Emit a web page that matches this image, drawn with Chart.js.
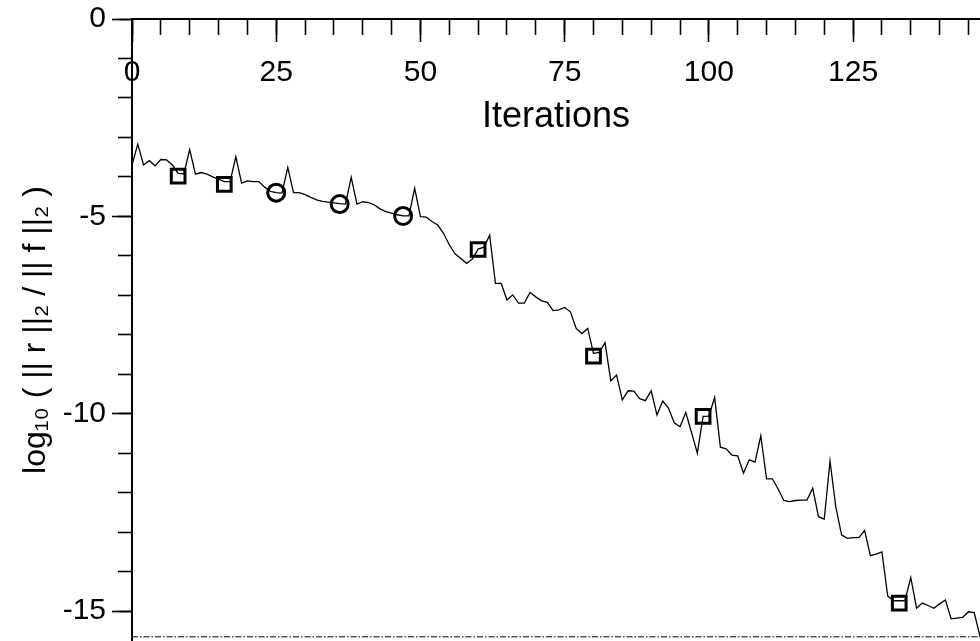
<!DOCTYPE html>
<html>
<head>
<meta charset="utf-8">
<script src="https://cdn.jsdelivr.net/npm/chart.js@4.4.1/dist/chart.umd.min.js"></script>
<style>
  html, body { margin: 0; padding: 0; background: #fff; }
  #wrap { width: 980px; height: 641px; position: relative; }
</style>
</head>
<body>
<div id="wrap"><canvas id="c"></canvas></div>
<script>
// ---- data ----
const iterations = [0,1,2,3,4,5,6,7,8,9,10,11,12,13,14,15,16,17,18,19,20,21,22,23,24,25,26,27,28,29,30,31,32,33,34,35,36,37,38,39,40,41,42,43,44,45,46,47,48,49,50,51,52,53,54,55,56,57,58,59,60,61,62,63,64,65,66,67,68,69,70,71,72,73,74,75,76,77,78,79,80,81,82,83,84,85,86,87,88,89,90,91,92,93,94,95,96,97,98,99,100,101,102,103,104,105,106,107,108,109,110,111,112,113,114,115,116,117,118,119,120,121,122,123,124,125,126,127,128,129,130,131,132,133,134,135,136,137,138,139,140,141,142,143,144,145,146,147];
const residual = [
  -3.70,-3.17,-3.70,-3.59,-3.72,-3.56,-3.57,-3.70,-3.91,-3.92,
  -3.31,-3.93,-3.89,-3.93,-4.00,-4.06,-4.12,-4.12,-3.49,-4.16,
  -4.10,-4.12,-4.12,-4.26,-4.37,-4.40,-4.41,-3.76,-4.40,-4.40,
  -4.45,-4.52,-4.58,-4.62,-4.64,-4.66,-4.68,-4.69,-4.01,-4.69,
  -4.63,-4.65,-4.71,-4.81,-4.88,-4.92,-4.96,-4.99,-4.99,-4.29,
  -5.01,-5.02,-5.13,-5.22,-5.43,-5.72,-5.95,-6.07,-6.19,-6.08,
  -5.83,-5.78,-5.48,-6.70,-6.70,-7.12,-6.99,-7.20,-7.20,-6.93,
  -7.04,-7.14,-7.18,-7.39,-7.37,-7.31,-7.42,-7.84,-7.97,-7.84,
  -8.47,-8.45,-8.20,-9.17,-9.02,-9.65,-9.42,-9.43,-9.62,-9.67,
  -9.42,-10.03,-9.68,-9.86,-10.23,-10.33,-9.97,-10.48,-11.00,-10.07,
  -10.06,-9.59,-10.85,-10.89,-11.05,-11.07,-11.51,-11.17,-11.23,-10.56,
  -11.65,-11.65,-11.91,-12.20,-12.23,-12.20,-12.19,-12.19,-11.89,-12.61,
  -12.67,-11.20,-12.36,-13.07,-13.16,-13.14,-13.14,-12.96,-13.60,-13.56,
  -13.50,-14.62,-14.74,-14.74,-14.74,-14.15,-14.93,-14.80,-14.86,-14.93,
  -14.82,-14.72,-15.20,-15.18,-15.16,-15.02,-15.04,-15.65
];
const squareIters = [8, 16, 60, 80, 99, 133];
const squareVals  = [-3.98, -4.19, -5.84, -8.54, -10.07, -14.80];
const circleIters = [25, 36, 47];
const circleVals  = [-4.40, -4.69, -4.99];
const epsLevel = -15.654;          // log10(machine epsilon)
const epsRange = [0, 147];
const xMajorTicks = [0, 25, 50, 75, 100, 125];
const yMajorTicks = [0, -5, -10, -15];

const xTitle = 'Iterations';
const yTitle = 'log\u2081\u2080 ( || r ||\u2082 / || f ||\u2082 )';

// ---- chart ----
const FONT = "'Liberation Sans', Arial, Helvetica, sans-serif";
const pts = (xs, ys) => xs.map((x, i) => ({x: x, y: ys[i]}));
const noPad = (s) => { s.paddingTop = 0; s.paddingBottom = 0; s.paddingLeft = 0; s.paddingRight = 0; };

new Chart(document.getElementById('c'), {
  type: 'line',
  data: {
    datasets: [
      {
        data: pts(iterations, residual),
        borderColor: '#000', borderWidth: 1.3, pointRadius: 0,
        tension: 0, fill: false, order: 2
      },
      {
        data: pts(epsRange, [epsLevel, epsLevel]),
        borderColor: '#000', borderWidth: 1, borderDash: [6, 2, 1.5, 2],
        pointRadius: 0, fill: false, order: 3
      },
      {
        data: pts(squareIters, squareVals),
        showLine: false, pointStyle: 'rect', pointRadius: 9.7,
        pointBorderWidth: 3, pointBorderColor: '#000',
        pointBackgroundColor: 'rgba(0,0,0,0)', order: 1
      },
      {
        data: pts(circleIters, circleVals),
        showLine: false, pointStyle: 'circle', pointRadius: 8.5,
        pointBorderWidth: 3, pointBorderColor: '#000',
        pointBackgroundColor: 'rgba(0,0,0,0)', order: 1
      }
    ]
  },
  options: {
    responsive: true,
    maintainAspectRatio: false,
    animation: false,
    events: [],
    layout: { autoPadding: false, padding: { top: 19, left: 0, right: 0, bottom: 0 } },
    plugins: { legend: { display: false }, tooltip: { enabled: false } },
    scales: {
      x: {
        type: 'linear', min: 0, max: 147,
        position: { y: 0 },
        afterBuildTicks: (s) => { s.ticks = xMajorTicks.map(v => ({value: v})); },
        afterFit: noPad,
        ticks: { font: { family: FONT, size: 30 }, color: '#000', padding: 14,
                 autoSkip: false, maxRotation: 0 },
        grid: { drawOnChartArea: false, tickLength: 22, tickColor: '#000', tickWidth: 1.6 },
        border: { color: '#000', width: 2 },
        title: { display: true, text: xTitle, color: '#000',
                 font: { family: FONT, size: 36 }, padding: { top: -10, bottom: 0 } }
      },
      xMinor: {
        type: 'linear', axis: 'x', min: 0, max: 147,
        position: { y: 0 },
        afterFit: noPad,
        ticks: { stepSize: 5, includeBounds: false, autoSkip: false, callback: () => '' ,
                 font: { size: 1 } },
        grid: { drawOnChartArea: false, tickLength: 15, tickColor: '#000', tickWidth: 1.6 },
        border: { color: '#000', width: 2 }
      },
      y: {
        type: 'linear', min: -15.76, max: 0,
        position: 'left',
        afterBuildTicks: (s) => { s.ticks = yMajorTicks.map(v => ({value: v})); },
        afterFit: (s) => { s.width = 132; noPad(s); },
        ticks: { font: { family: FONT, size: 30 }, color: '#000', padding: 6 },
        grid: { drawOnChartArea: false, tickLength: 20, tickColor: '#000', tickWidth: 1.6 },
        border: { color: '#000', width: 2 },
        title: { display: true, text: yTitle, color: '#000',
                 font: { family: FONT, size: 32 }, padding: { top: 17, bottom: 0 } }
      },
      yMinor: {
        type: 'linear', axis: 'y', min: -15.76, max: 0,
        position: { x: 0 },
        afterFit: noPad,
        ticks: { stepSize: 1, includeBounds: false, callback: () => '', font: { size: 1 } },
        grid: { drawOnChartArea: false, tickLength: 13, tickColor: '#000', tickWidth: 1.6 },
        border: { color: '#000', width: 2 }
      }
    }
  }
});
</script>
</body>
</html>
